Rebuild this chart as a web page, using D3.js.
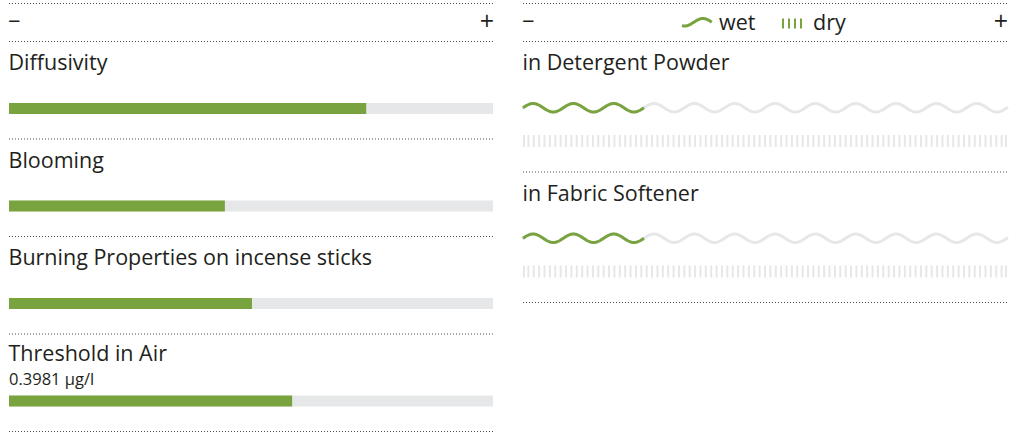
<!DOCTYPE html>
<html>
<head>
<meta charset="utf-8">
<script src="https://cdn.jsdelivr.net/npm/d3@7"></script>
<style>
  html, body { margin: 0; padding: 0; background: #fff; }
  svg { display: block; }
  text { font-family: "Open Sans", sans-serif; fill: #231f20; }
</style>
</head>
<body>
<svg id="chart" width="1010" height="435"></svg>
<script>
// ---- data ----
const leftCategories = ["Diffusivity", "Blooming", "Burning Properties on incense sticks", "Threshold in Air"];
const leftSubtitles = ["", "", "", "0.3981 µg/l"];
const leftValues = [0.738, 0.446, 0.502, 0.585];

const rightCategories = ["in Detergent Powder", "in Fabric Softener"];
const wetValues = [0.25, 0.25];
const dryValues = [0, 0];

const legendLabels = ["wet", "dry"];
const scaleLabels = ["\u2212", "+"];

// ---- style ----
const GREEN = "#79a33f";
const GRAY = "#e6e7e8";
const DOT = "#4a4a4a";
const FONT = 21.5;

const svg = d3.select("#chart");

const xLeft = d3.scaleLinear().domain([0, 1]).range([9, 493]);
const xRight = d3.scaleLinear().domain([0, 1]).range([523, 1007]);

function dotted(g, x0, x1, y) {
  g.append("line").attr("x1", x0).attr("x2", x1).attr("y1", y).attr("y2", y)
    .attr("stroke", DOT).attr("stroke-width", 1).attr("stroke-dasharray", "1,2");
}

// ---- header rows ----
[xLeft, xRight].forEach(x => {
  const [a, b] = x.range();
  dotted(svg, a, b, 3.5);
  dotted(svg, a, b, 41.5);
  svg.append("text").attr("x", a - 1).attr("y", 29).attr("font-size", 22).text(scaleLabels[0]);
  svg.append("text").attr("x", b + 1).attr("y", 30).attr("text-anchor", "end").attr("font-size", 25).text(scaleLabels[1]);
});

// ---- left panel: bars ----
const leftRow = d3.scaleLinear().domain([0, 1]).range([41.5, 139]);
const lg = svg.append("g");
leftCategories.forEach((cat, i) => {
  const top = leftRow(i);
  const g = lg.append("g");
  const hasSub = !!leftSubtitles[i];
  g.append("text").attr("x", xLeft(0) - 0.5).attr("y", top + (hasSub ? 27 : 28.5)).attr("font-size", FONT).text(cat);
  if (hasSub) {
    g.append("text").attr("x", xLeft(0)).attr("y", top + 51).attr("font-size", 16.5).text(leftSubtitles[i]);
  }
  g.append("rect").attr("x", xLeft(0)).attr("y", top + 61.5)
    .attr("width", xLeft(1) - xLeft(0)).attr("height", 11).attr("fill", GRAY);
  g.append("rect").attr("x", xLeft(0)).attr("y", top + 61.5)
    .attr("width", xLeft(leftValues[i]) - xLeft(0)).attr("height", 11).attr("fill", GREEN);
  dotted(g, xLeft(0), xLeft(1), leftRow(i + 1));
});

// ---- right panel: wave (wet) and ticks (dry) ----
const rightRow = d3.scaleLinear().domain([0, 1]).range([41.5, 172]);
const periods = 12;
const samples = d3.range(0, 1.0001, 1 / 960);
const nTicks = 91;
const rg = svg.append("g");
rightCategories.forEach((cat, i) => {
  const top = rightRow(i);
  const g = rg.append("g");
  g.append("text").attr("x", xRight(0) - 0.5).attr("y", top + 28.5).attr("font-size", FONT).text(cat);
  const yW = d3.scaleLinear().domain([-1, 1]).range([top + 70.5, top + 62]);
  const line = d3.line().x(t => xRight(t)).y(t => yW(Math.sin(2 * Math.PI * periods * t))).curve(d3.curveLinear);
  g.append("path").attr("d", line(samples)).attr("fill", "none").attr("stroke", GRAY)
    .attr("stroke-width", 3).attr("stroke-linecap", "round");
  g.append("path").attr("d", line(samples.filter(t => t <= wetValues[i]))).attr("fill", "none")
    .attr("stroke", GREEN).attr("stroke-width", 3).attr("stroke-linecap", "butt");
  const tickPos = d3.range(nTicks).map(k => k / (nTicks - 1));
  g.selectAll("rect.dry").data(tickPos).join("rect").attr("class", "dry")
    .attr("x", t => xRight(t) - 1 + (t === 0 ? 1 : 0) - (t === 1 ? 1 : 0))
    .attr("y", top + 93.5).attr("width", 2).attr("height", 12)
    .attr("fill", t => (dryValues[i] > 0 && t <= dryValues[i]) ? GREEN : GRAY);
  dotted(g, xRight(0), xRight(1), rightRow(i + 1));
});

// ---- legend ----
const leg = svg.append("g");
const legT = d3.range(0.35, 2.0001, 0.02);
const lx = d3.scaleLinear().domain([0.35, 2]).range([682, 712]);
const ly = d3.scaleLinear().domain([-1, 1]).range([18.5, 26]);
leg.append("path").attr("d", d3.line().x(p => lx(p)).y(p => ly(Math.sin(Math.PI * p)))(legT))
  .attr("fill", "none").attr("stroke", GREEN).attr("stroke-width", 3);
leg.append("text").attr("x", 719).attr("y", 29.5).attr("font-size", FONT).text(legendLabels[0]);
leg.selectAll("rect").data(d3.range(4)).join("rect")
  .attr("x", k => 782 + k * 6).attr("y", 18.5).attr("width", 2).attr("height", 10).attr("fill", GREEN);
leg.append("text").attr("x", 813).attr("y", 29.5).attr("font-size", FONT).text(legendLabels[1]);
</script>
</body>
</html>
